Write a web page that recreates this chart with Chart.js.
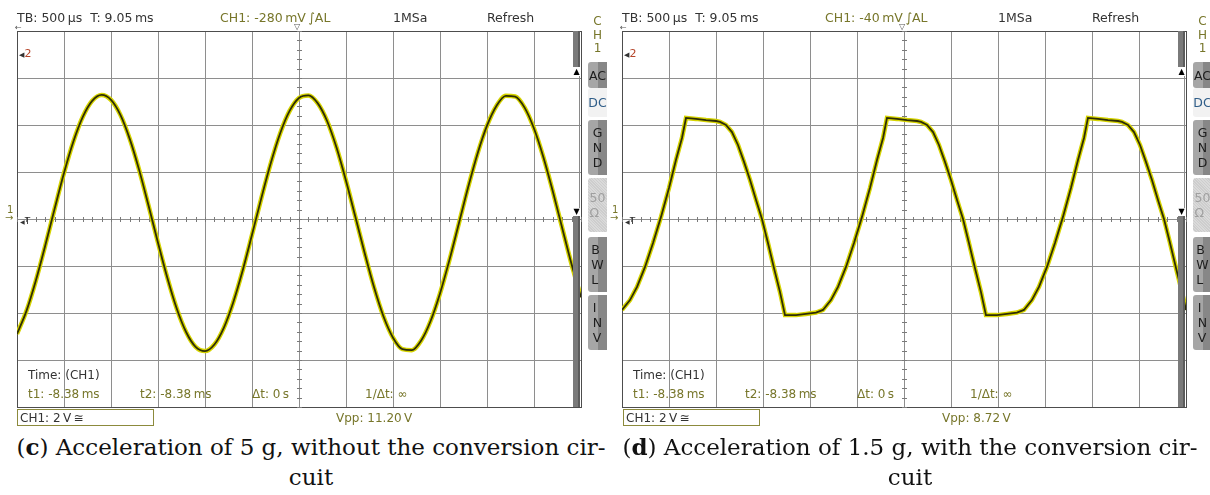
<!DOCTYPE html>
<html>
<head>
<meta charset="utf-8">
<script src="https://cdn.jsdelivr.net/npm/chart.js@4"></script>
<style>
  html, body { margin: 0; padding: 0; background: #fff; }
  body { width: 1210px; height: 495px; overflow: hidden; position: relative; font-family: "DejaVu Sans", sans-serif; }
  .panel { position: absolute; top: 0; width: 605px; height: 495px; }
  .panel canvas { position: absolute; left: 0; top: 0; }
  .t { position: absolute; white-space: nowrap; font-size: 12px; line-height: 14px; color: #333; }
  .hd { font-size: 12.5px; top: 11px; }
  .ol { color: #77762a; }
  .box { position: absolute; left: 17px; top: 409px; width: 135px; height: 15px; border: 1px solid #8c8a3c; }
  .box span { position: absolute; left: 2px; top: 1px; font-size: 12px; line-height: 14px; color: #333; white-space: nowrap; }
  .bar { position: absolute; left: 573px; width: 7px; background: linear-gradient(to right, #7a7a7a 70%, #5c5c5c 70%); }
  .strip { position: absolute; left: 573px; top: 76px; width: 6px; height: 132px; border-right: 1px solid #8a8a8a; }
  .tri { position: absolute; left: 573px; width: 7px; font-size: 8px; line-height: 8px; text-align: center; color: #000; }
  .side { position: absolute; left: 588px; width: 19px; border-radius: 3px 0 0 3px; display: flex; flex-direction: column; justify-content: center; align-items: center;
          font-size: 12.5px; line-height: 15px; color: #1d1d1d; background: linear-gradient(to right, #a6a6a6 55%, #878787 55%); }
  .side.dc { background: #f2f2f2; color: #2f5d88; }
  .side.off { background: repeating-linear-gradient(45deg, #cdcdcd 0 1px, #dadada 1px 2px); color: #a0a0a0; }
  .chan { position: absolute; left: 588px; width: 19px; top: 15px; text-align: center; font-size: 12px; line-height: 13.5px; color: #77762a; }
  .cap { position: absolute; top: 432px; width: 640px; text-align: center; font-family: "DejaVu Serif", serif; font-size: 23px; line-height: 30px; color: #111; }
</style>
</head>
<body>

<div class="panel" id="left">
  <canvas id="scopeC" width="600" height="430"></canvas>
  <div class="t hd" style="left:17px">TB: 500&#8201;µs &nbsp;T: 9.05&#8201;ms</div>
  <div class="t hd ol" style="left:220px">CH1: -280&#8201;mV&#8201;∫AL</div>
  <div class="t hd" style="left:393px">1MSa</div>
  <div class="t hd" style="left:487px">Refresh</div>
  <div class="t" style="left:15px;top:21px;font-size:8px;color:#555">←</div>
  <div class="t" style="left:294px;top:23px;font-size:8px;line-height:8px;color:#555">▽</div>
  <div class="t" style="left:19px;top:47px;font-size:11px"><span style="font-size:7px">◀</span><span style="color:#b5452a">2</span></div>
  <div class="t ol" style="left:7px;top:203px;font-size:10px">1</div>
  <div class="t ol" style="left:5px;top:213px;font-size:10px;line-height:10px">→</div>
  <div class="t" style="left:20px;top:214px;font-size:9px"><span style="font-size:6px">◀</span>T</div>
  <div class="bar" style="top:31px;height:36px"></div>
  <div class="tri" style="top:68px">▲</div>
  <div class="strip"></div>
  <div class="tri" style="top:208px">▼</div>
  <div class="bar" style="top:216px;height:191px"></div>
  <div class="chan">C<br>H<br>1</div>
  <div class="side" style="top:62px;height:26px">AC</div>
  <div class="side dc" style="top:88px;height:29px">DC</div>
  <div class="side" style="top:120px;height:55px">G<br>N<br>D</div>
  <div class="side off" style="top:178px;height:54px">50<br>Ω</div>
  <div class="side" style="top:237px;height:55px">B<br>W<br>L</div>
  <div class="side" style="top:295px;height:55px">I<br>N<br>V</div>
  <div class="t" style="left:28px;top:368px">Time: (CH1)</div>
  <div class="t ol" style="left:28px;top:387px">t1: -8.38&#8201;ms</div>
  <div class="t ol" style="left:140px;top:387px">t2: -8.38&#8201;ms</div>
  <div class="t ol" style="left:252px;top:387px">Δt: 0&#8201;s</div>
  <div class="t ol" style="left:365px;top:387px">1/Δt: ∞</div>
  <div class="box"><span>CH1: 2&#8201;V&#8201;≅</span></div>
  <div class="t ol" style="left:336px;top:411px">Vpp: 11.20&#8201;V</div>
  <div class="cap" style="left:-9px">(<b>c</b>) Acceleration of 5 g, without the conversion cir-<br>cuit</div>
</div>

<div class="panel" id="right" style="left:605px">
  <canvas id="scopeD" width="605" height="430"></canvas>
  <div class="t hd" style="left:17px">TB: 500&#8201;µs &nbsp;T: 9.05&#8201;ms</div>
  <div class="t hd ol" style="left:220px">CH1: -40&#8201;mV&#8201;∫AL</div>
  <div class="t hd" style="left:393px">1MSa</div>
  <div class="t hd" style="left:487px">Refresh</div>
  <div class="t" style="left:15px;top:21px;font-size:8px;color:#555">←</div>
  <div class="t" style="left:294px;top:23px;font-size:8px;line-height:8px;color:#555">▽</div>
  <div class="t" style="left:19px;top:47px;font-size:11px"><span style="font-size:7px">◀</span><span style="color:#b5452a">2</span></div>
  <div class="t ol" style="left:7px;top:203px;font-size:10px">1</div>
  <div class="t ol" style="left:5px;top:213px;font-size:10px;line-height:10px">→</div>
  <div class="t" style="left:20px;top:214px;font-size:9px"><span style="font-size:6px">◀</span>T</div>
  <div class="bar" style="top:31px;height:36px"></div>
  <div class="tri" style="top:68px">▲</div>
  <div class="strip"></div>
  <div class="tri" style="top:208px">▼</div>
  <div class="bar" style="top:216px;height:191px"></div>
  <div class="chan">C<br>H<br>1</div>
  <div class="side" style="top:62px;height:26px">AC</div>
  <div class="side dc" style="top:88px;height:29px">DC</div>
  <div class="side" style="top:120px;height:55px">G<br>N<br>D</div>
  <div class="side off" style="top:178px;height:54px">50<br>Ω</div>
  <div class="side" style="top:237px;height:55px">B<br>W<br>L</div>
  <div class="side" style="top:295px;height:55px">I<br>N<br>V</div>
  <div class="t" style="left:28px;top:368px">Time: (CH1)</div>
  <div class="t ol" style="left:28px;top:387px">t1: -8.38&#8201;ms</div>
  <div class="t ol" style="left:140px;top:387px">t2: -8.38&#8201;ms</div>
  <div class="t ol" style="left:252px;top:387px">Δt: 0&#8201;s</div>
  <div class="t ol" style="left:365px;top:387px">1/Δt: ∞</div>
  <div class="box" style="left:18px"><span>CH1: 2&#8201;V&#8201;≅</span></div>
  <div class="t ol" style="left:337px;top:411px">Vpp: 8.72&#8201;V</div>
  <div class="cap" style="left:-15px">(<b>d</b>) Acceleration of 1.5 g, with the conversion cir-<br>cuit</div>
</div>

<script>
// time base: 500 us/div, 12 divisions -> -3..3 ms; CH1 2 V/div, 8 divisions -> -8..8 V
const timeDivs = [-3, 3];
const voltDivs = [-8, 8];

// (c) 5 g, no conversion circuit: one sample every 0.1 ms from -3 ms
const leftStep = 0.1;
const leftVolts = [
  -4.89, -3.92, -2.63, -1.14, 0.43, 1.96, 3.30, 4.35, 5.03, 5.28,
  5.07, 4.43, 3.40, 2.08, 0.56, -1.01, -2.51, -3.82, -4.82, -5.44,
  -5.62, -5.34, -4.63, -3.55, -2.20, -0.67, 0.90, 2.38, 3.65, 4.60,
  5.15, 5.26, 4.92, 4.16, 3.03, 1.63, 0.09, -1.47, -2.93, -4.16,
  -5.05, -5.54, -5.58, -5.17, -4.34, -3.17, -1.75, -0.20, 1.36, 2.79,
  3.97, 4.81, 5.24, 5.21, 4.74, 3.85, 2.63, 1.18, -0.38, -1.93,
  -3.33
];
const leftTimes = leftVolts.map((v, i) => -3 + i * leftStep);

// (d) 1.5 g, with conversion circuit: clipped trace, points taken at the corners and along the edges
const rightTimes = [
  -3.000, -2.915, -2.840, -2.755, -2.670, -2.585, -2.500, -2.426, -2.362, -2.319,
  -2.213, -2.106, -2.000, -1.957, -1.894, -1.830, -1.766, -1.702, -1.638, -1.574, -1.511, -1.447, -1.383, -1.319, -1.266,
  -1.149, -1.043, -0.936, -0.862, -0.777, -0.702, -0.617, -0.532, -0.447, -0.362, -0.287, -0.223, -0.181,
  -0.075, 0.032, 0.138, 0.181, 0.245, 0.309, 0.372, 0.436, 0.500, 0.564, 0.628, 0.691, 0.755, 0.819, 0.872,
  0.989, 1.095, 1.202, 1.276, 1.361, 1.436, 1.521, 1.606, 1.691, 1.776, 1.851, 1.915, 1.957,
  2.064, 2.170, 2.277, 2.319, 2.383, 2.447, 2.511, 2.574, 2.638, 2.702, 2.766, 2.830, 2.894, 2.957, 3.000
];
const rightVolts = [
  -3.87, -3.45, -2.89, -2.04, -1.02, 0.09, 1.32, 2.51, 3.45, 4.30,
  4.26, 4.21, 4.17, 4.13, 4.00, 3.70, 3.15, 2.43, 1.66, 0.81, 0.00, -1.02, -2.09, -3.11, -4.09,
  -4.09, -4.04, -3.98, -3.87, -3.45, -2.89, -2.04, -1.02, 0.09, 1.32, 2.51, 3.45, 4.30,
  4.26, 4.21, 4.17, 4.13, 4.00, 3.70, 3.15, 2.43, 1.66, 0.81, 0.00, -1.02, -2.09, -3.11, -4.09,
  -4.09, -4.04, -3.98, -3.87, -3.45, -2.89, -2.04, -1.02, 0.09, 1.32, 2.51, 3.45, 4.30,
  4.26, 4.21, 4.17, 4.13, 4.00, 3.70, 3.15, 2.43, 1.66, 0.81, 0.00, -1.02, -2.09, -3.11, -3.87
];

const gridGray = "#8e8e8e";
const edgeGray = "#4d4d4d";

// small ticks along the centre cross (5 per division)
const centerTicks = {
  id: "centerTicks",
  beforeDatasetsDraw(chart) {
    const { ctx, scales: { x, y } } = chart;
    const x0 = Math.round(x.getPixelForValue(0)) + 0.5;
    const y0 = Math.round(y.getPixelForValue(0)) + 0.5;
    ctx.save();
    ctx.strokeStyle = "#7a7a7a";
    ctx.lineWidth = 1;
    ctx.beginPath();
    for (let i = -30; i <= 30; i++) {
      const px = Math.round(x.getPixelForValue(i * 0.1)) + 0.5;
      ctx.moveTo(px, y0 - 2.5);
      ctx.lineTo(px, y0 + 2.5);
    }
    for (let j = -20; j <= 20; j++) {
      const py = Math.round(y.getPixelForValue(j * 0.4)) + 0.5;
      ctx.moveTo(x0 - 2.5, py);
      ctx.lineTo(x0 + 2.5, py);
    }
    ctx.stroke();
    ctx.restore();
  }
};

function scopeChart(id, times, volts, tension, padRight) {
  const pts = times.map((t, i) => ({ x: t, y: volts[i] }));
  const trace = (color, width) => ({
    data: pts,
    borderColor: color,
    borderWidth: width,
    pointRadius: 0,
    tension: tension,
    cubicInterpolationMode: tension ? "monotone" : "default",
    clip: 0
  });
  const edge = (lo, hi) => (c) => (c.tick && (c.tick.value === lo || c.tick.value === hi)) ? edgeGray : gridGray;
  return new Chart(document.getElementById(id), {
    type: "line",
    // the first dataset is painted last, so the dark core sits on the yellow glow
    data: { datasets: [trace("#2e2d06", 1.8), trace("#d6d400", 4.5)] },
    options: {
      responsive: false,
      animation: false,
      events: [],
      layout: { padding: { left: 17, top: 31, right: padRight, bottom: 23 } },
      plugins: { legend: { display: false }, tooltip: { enabled: false } },
      scales: {
        x: {
          type: "linear", min: timeDivs[0], max: timeDivs[1],
          ticks: { stepSize: 0.5, display: false },
          grid: { color: edge(timeDivs[0], timeDivs[1]), drawTicks: false },
          border: { color: edgeGray },
          afterFit(s) { s.height = 0; }
        },
        y: {
          type: "linear", min: voltDivs[0], max: voltDivs[1],
          ticks: { stepSize: 2, display: false },
          grid: { color: edge(voltDivs[0], voltDivs[1]), drawTicks: false },
          border: { color: edgeGray },
          afterFit(s) { s.width = 0; }
        }
      }
    },
    plugins: [centerTicks]
  });
}

scopeChart("scopeC", leftTimes, leftVolts, 0.4, 19);
scopeChart("scopeD", rightTimes, rightVolts, 0, 24);
</script>
</body>
</html>
